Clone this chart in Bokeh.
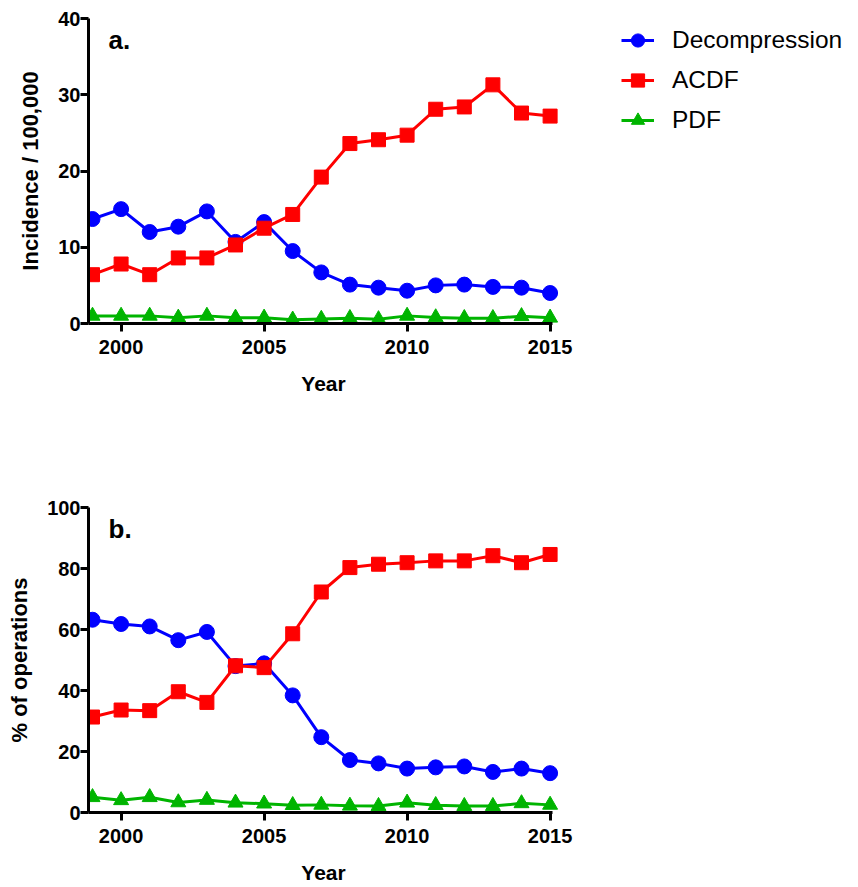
from bokeh.plotting import figure
from bokeh.models import (Range1d, FixedTicker, Label, Legend, LegendItem)
from bokeh.layouts import column
from bokeh.embed import file_html
from bokeh.resources import INLINE

years = list(range(1999, 2016))

# Panel a: incidence per 100,000
inc_decomp = [13.7, 15.0, 12.0, 12.7, 14.7, 10.7, 13.3, 9.5, 6.7, 5.1, 4.7, 4.3, 5.0, 5.1, 4.8, 4.7, 4.0]
inc_acdf = [6.4, 7.8, 6.4, 8.6, 8.6, 10.3, 12.5, 14.3, 19.2, 23.6, 24.1, 24.7, 28.1, 28.4, 31.3, 27.6, 27.2]
inc_pdf = [1.0, 1.0, 1.0, 0.75, 1.0, 0.75, 0.75, 0.5, 0.6, 0.7, 0.55, 1.0, 0.8, 0.7, 0.7, 0.95, 0.75]

# Panel b: % of operations
pct_decomp = [63.2, 61.8, 61.0, 56.5, 59.2, 48.0, 48.9, 38.4, 24.7, 17.2, 16.1, 14.4, 14.8, 15.1, 13.3, 14.4, 12.9]
pct_acdf = [31.3, 33.6, 33.4, 39.6, 36.1, 48.1, 47.5, 58.6, 72.3, 80.3, 81.4, 81.9, 82.5, 82.5, 84.2, 81.9, 84.6]
pct_pdf = [5.0, 4.0, 5.0, 3.3, 4.1, 3.2, 2.9, 2.4, 2.5, 2.2, 2.1, 3.2, 2.4, 2.1, 2.1, 3.0, 2.5]

series_names = ["Decompression", "ACDF", "PDF"]
y_ticks_a = [0, 10, 20, 30, 40]
y_ticks_b = [0, 20, 40, 60, 80, 100]
x_ticks = [2000, 2005, 2010, 2015]

COLORS = ["#0000ff", "#ff0000", "#00b400"]
MARKERS = ["circle", "square", "triangle"]
SIZES = [15, 14, 15]
FONT = "Liberation Sans"

PPY = 28.6
XS = 1999 - 4 / PPY
FRAME_W = 470
XE = XS + FRAME_W / PPY
LEFT = 88
RIGHT = 858 - LEFT - FRAME_W


def style_axes(p, yticks, ylabel):
    for ax in [p.xaxis[0], p.yaxis[0]]:
        ax.axis_line_width = 3
        ax.axis_line_color = "black"
        ax.major_tick_line_width = 3
        ax.major_tick_line_color = "black"
        ax.major_tick_out = 8
        ax.major_tick_in = 0
        ax.minor_tick_line_color = None
        ax.major_label_text_font = FONT
        ax.major_label_text_font_style = "bold"
        ax.major_label_text_font_size = "20px"
        ax.major_label_text_color = "black"
        ax.axis_label_text_font = FONT
        ax.axis_label_text_font_style = "bold"
        ax.axis_label_text_color = "black"
    p.xaxis[0].ticker = FixedTicker(ticks=x_ticks)
    p.xaxis[0].bounds = (XS, 2015.1)
    p.xaxis[0].major_label_standoff = 8
    p.xaxis[0].axis_label = "Year"
    p.xaxis[0].axis_label_text_font_size = "21px"
    p.xaxis[0].axis_label_standoff = 15
    p.yaxis[0].ticker = FixedTicker(ticks=yticks)
    p.yaxis[0].major_label_standoff = 0
    p.yaxis[0].axis_label = ylabel
    p.yaxis[0].axis_label_text_font_size = "22px"
    p.yaxis[0].axis_label_standoff = 12
    p.xgrid.grid_line_color = None
    p.ygrid.grid_line_color = None
    p.outline_line_color = None


def draw_series(p, ys_list):
    rends = []
    for ys, c, m, s in zip(ys_list, COLORS, MARKERS, SIZES):
        l = p.line(years, ys, line_color=c, line_width=3)
        sc = p.scatter(years, ys, marker=m, size=s, fill_color=c, line_color=c)
        rends.append([l, sc])
    return rends


def panel_label(p, txt):
    p.add_layout(Label(x=20, y=284, x_units="screen", y_units="screen", text=txt,
                       text_font=FONT, text_font_style="bold", text_font_size="26px",
                       text_color="black",
                       text_baseline="alphabetic", text_align="left"))


# ---- top panel ----
pa = figure(output_backend="svg", toolbar_location=None,
            x_range=Range1d(XS, XE), y_range=Range1d(0, 40),
            frame_width=FRAME_W, frame_height=305,
            min_border_left=LEFT, min_border_right=RIGHT,
            min_border_top=18, min_border_bottom=174)
style_axes(pa, y_ticks_a, "Incidence / 100,000")
rends_a = draw_series(pa, [inc_decomp, inc_acdf, inc_pdf])
panel_label(pa, "a.")

legend = Legend(items=[LegendItem(label=n, renderers=r) for n, r in zip(series_names, rends_a)],
                location=(63, 183), orientation="vertical",
                glyph_width=33, glyph_height=40, label_height=40, spacing=0,
                label_standoff=18, padding=0, margin=0,
                border_line_color=None, background_fill_alpha=0,
                label_text_font=FONT, label_text_font_size="24.5px",
                label_text_color="black")
pa.add_layout(legend, "right")

# ---- bottom panel ----
pb = figure(output_backend="svg", toolbar_location=None,
            x_range=Range1d(XS, XE), y_range=Range1d(0, 100),
            frame_width=FRAME_W, frame_height=305,
            min_border_left=LEFT, min_border_right=RIGHT,
            min_border_top=10, min_border_bottom=75)
style_axes(pb, y_ticks_b, "% of operations")
draw_series(pb, [pct_decomp, pct_acdf, pct_pdf])
panel_label(pb, "b.")

layout = column(pa, pb, spacing=0)
open("out.html", "w").write(file_html(layout, INLINE))
